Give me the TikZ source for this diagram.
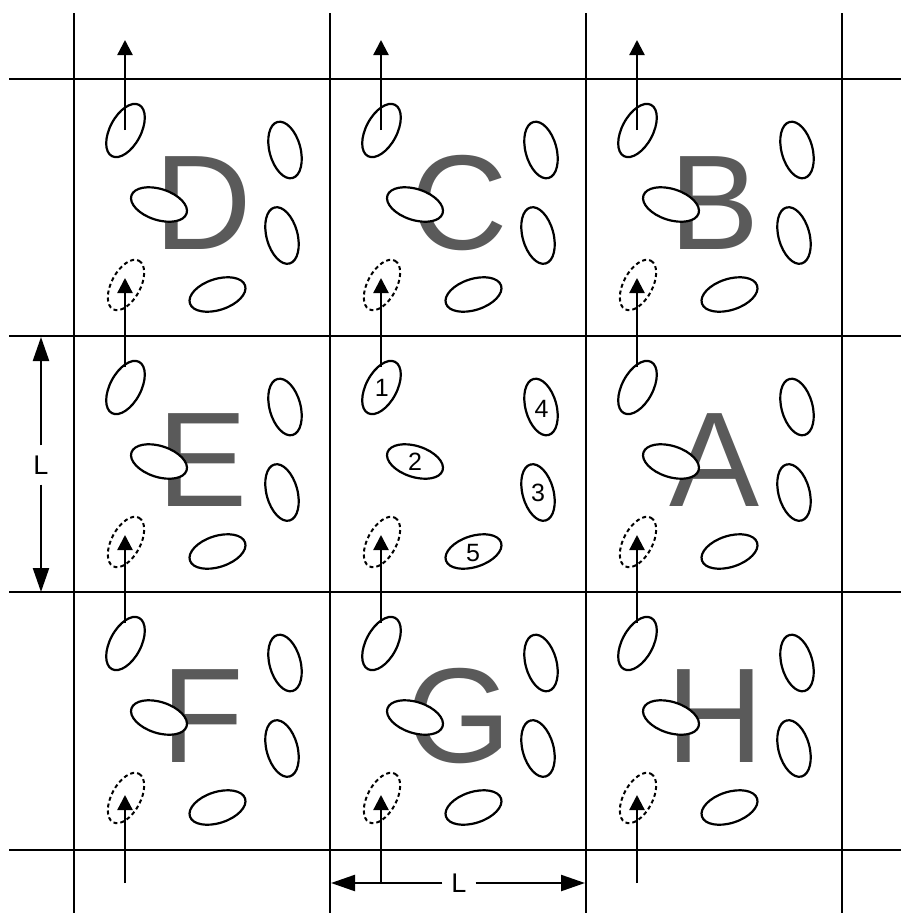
\documentclass[tikz,border=0pt]{standalone}
\usepackage{fontspec}
\setmainfont{Liberation Sans}
\usetikzlibrary{arrows.meta}
\definecolor{lettergray}{HTML}{5A5A5A}
\begin{document}
\begin{tikzpicture}[x=1pt,y=-1pt,
  gridline/.style={line width=2.9pt},
  particle/.style={draw, line width=2.2pt, fill=white},
  ghost/.style={draw, line width=2pt, dash pattern=on 4pt off 3pt, fill=white},
  move/.style={line width=2.3pt, -{Triangle[length=15pt,width=15pt]}},
  dimline/.style={line width=2.3pt, -{Triangle[length=24pt,width=16pt]}},
  biglet/.style={text=lettergray, font=\fontsize{135}{135}\selectfont, inner sep=0pt, anchor=base},
  num/.style={font=\fontsize{25}{25}\selectfont, inner sep=0pt},
  dimlabel/.style={font=\fontsize{27}{27}\selectfont, inner sep=0pt, minimum width=33pt, minimum height=39pt}
]
\useasboundingbox (0,0) rectangle (901,913);

% grid
\foreach \x in {74,330,586,842} \draw[gridline] (\x,13) -- (\x,913);
\foreach \y in {79,336,592,850} \draw[gridline] (9,\y) -- (901,\y);

% big letters
\foreach \cx/\cy/\t in {74/79/D,330/79/C,586/79/B,74/336/E,586/336/A,74/592/F,330/592/G,586/592/H}
  \node[biglet] (let-\t) at (\cx+129,\cy+170) {\t};

% particles
\foreach \cx/\cy in {74/79,330/79,586/79,74/336,330/336,586/336,74/592,330/592,586/592}{
  \begin{scope}[shift={(\cx,\cy)}]
    \foreach \ex/\ey/\ang in {51.5/51.5/62, 85/125.5/-18, 211/71/105, 208/156.5/105, 143.5/215.5/18}
      \draw[particle, rotate around={\ang:(\ex,\ey)}] (\ex,\ey) ellipse [x radius=29, y radius=15.5];
    \draw[ghost, rotate around={62:(52,206)}] (52,206) ellipse [x radius=27.5, y radius=14.5];
  \end{scope}
}

% labels of central cell
\node[num] (n1) at (330+51.7,336+52) {1};
\node[num] (n2) at (330+85,336+126) {2};
\node[num] (n3) at (330+208,336+157) {3};
\node[num] (n4) at (330+211.5,336+73) {4};
\node[num] (n5) at (330+143,336+217) {5};

% motion arrows
\foreach \x in {125,381,637}{
  \coordinate (a1-\x) at (\x,130); \coordinate (b1-\x) at (\x,40);
  \draw[move] (a1-\x) -- (b1-\x);
  \coordinate (a2-\x) at (\x,367); \coordinate (b2-\x) at (\x,278);
  \draw[move] (a2-\x) -- (b2-\x);
  \coordinate (a3-\x) at (\x,623); \coordinate (b3-\x) at (\x,535);
  \draw[move] (a3-\x) -- (b3-\x);
  \coordinate (a4-\x) at (\x,883); \coordinate (b4-\x) at (\x,795);
  \draw[move] (a4-\x) -- (b4-\x);
}

% dimensions
\coordinate (vt) at (41,337); \coordinate (vb) at (41,592);
\node[dimlabel] (Lv) at (41,465) {L};
\draw[dimline] (Lv) -- (vt);
\draw[dimline] (Lv) -- (vb);
\coordinate (hl) at (331,883); \coordinate (hr) at (585,883);
\node[dimlabel] (Lh) at (459,883) {L};
\draw[dimline] (Lh) -- (hl);
\draw[dimline] (Lh) -- (hr);
\end{tikzpicture}
\end{document}
